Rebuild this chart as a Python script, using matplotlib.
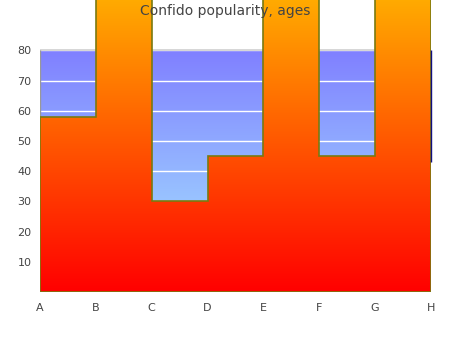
import numpy as np
import matplotlib
matplotlib.use("Agg")
import matplotlib.pyplot as plt
from matplotlib.colors import LinearSegmentedColormap
from matplotlib.patches import Polygon

categories = ["A", "B", "C", "D", "E", "F", "G", "H"]
values = [58, 110, 30, 45, 110, 45, 110, 43]
yticks = [10, 20, 30, 40, 50, 60, 70, 80]

fig = plt.figure(figsize=(4.5, 3.5), dpi=100)
ax = fig.add_axes([40 / 450, 58 / 350, 391 / 450, 292 / 350])
ymax = 292 / 3.02
ax.set_xlim(0, len(categories) - 1)
ax.set_ylim(0, ymax)

# plot-area background: blue gradient up to 80
bg = LinearSegmentedColormap.from_list("bg", ["#a8ecff", "#8080ff"])
ax.imshow(np.linspace(0, 1, 256).reshape(-1, 1), cmap=bg, origin="lower",
          extent=[0, len(categories) - 1, 0, 80], aspect="auto", zorder=0)
for t in yticks:
    ax.axhline(t, color="white", lw=1, zorder=1)
ax.axhline(80, color="#d0d0d0", lw=1.2, zorder=1)
ax.vlines(0, 0, 80, color="#999999", lw=1, zorder=1)

# stepped area with red-orange gradient
x = np.arange(len(categories))
xs, ys = [0], [0]
for i in range(len(x) - 1):
    xs += [x[i], x[i + 1]]
    ys += [values[i], values[i]]
xs += [x[-1], x[-1]]
ys += [values[-1], 0]
poly = Polygon(np.column_stack([xs, ys]), closed=True, facecolor="none",
               edgecolor="#7a7a10", lw=1.2, zorder=4)
ax.add_patch(poly)
fill = LinearSegmentedColormap.from_list("fill", ["#ff0000", "#ffaa00"])
im = ax.imshow(np.linspace(0, 1, 256).reshape(-1, 1), cmap=fill, origin="lower",
               extent=[0, len(categories) - 1, 0, ymax], aspect="auto", zorder=3)
im.set_clip_path(poly)
ax.vlines(x[-1], values[-1], 80, color="#101080", lw=1, zorder=5, clip_on=False)

ax.set_xticks(x, labels=categories)
ax.set_yticks(yticks)
ax.tick_params(axis="x", length=0, labelsize=8, labelcolor="#444444", pad=8)
ax.tick_params(axis="y", length=0, labelsize=8, labelcolor="#444444", pad=6)
for s in ax.spines.values():
    s.set_visible(False)

fig.text(0.5, 1 - 11 / 350, "Confido popularity, ages", ha="center", va="center",
         fontsize=10, color="#444444", zorder=10)

fig.savefig("out.png", dpi=100)
